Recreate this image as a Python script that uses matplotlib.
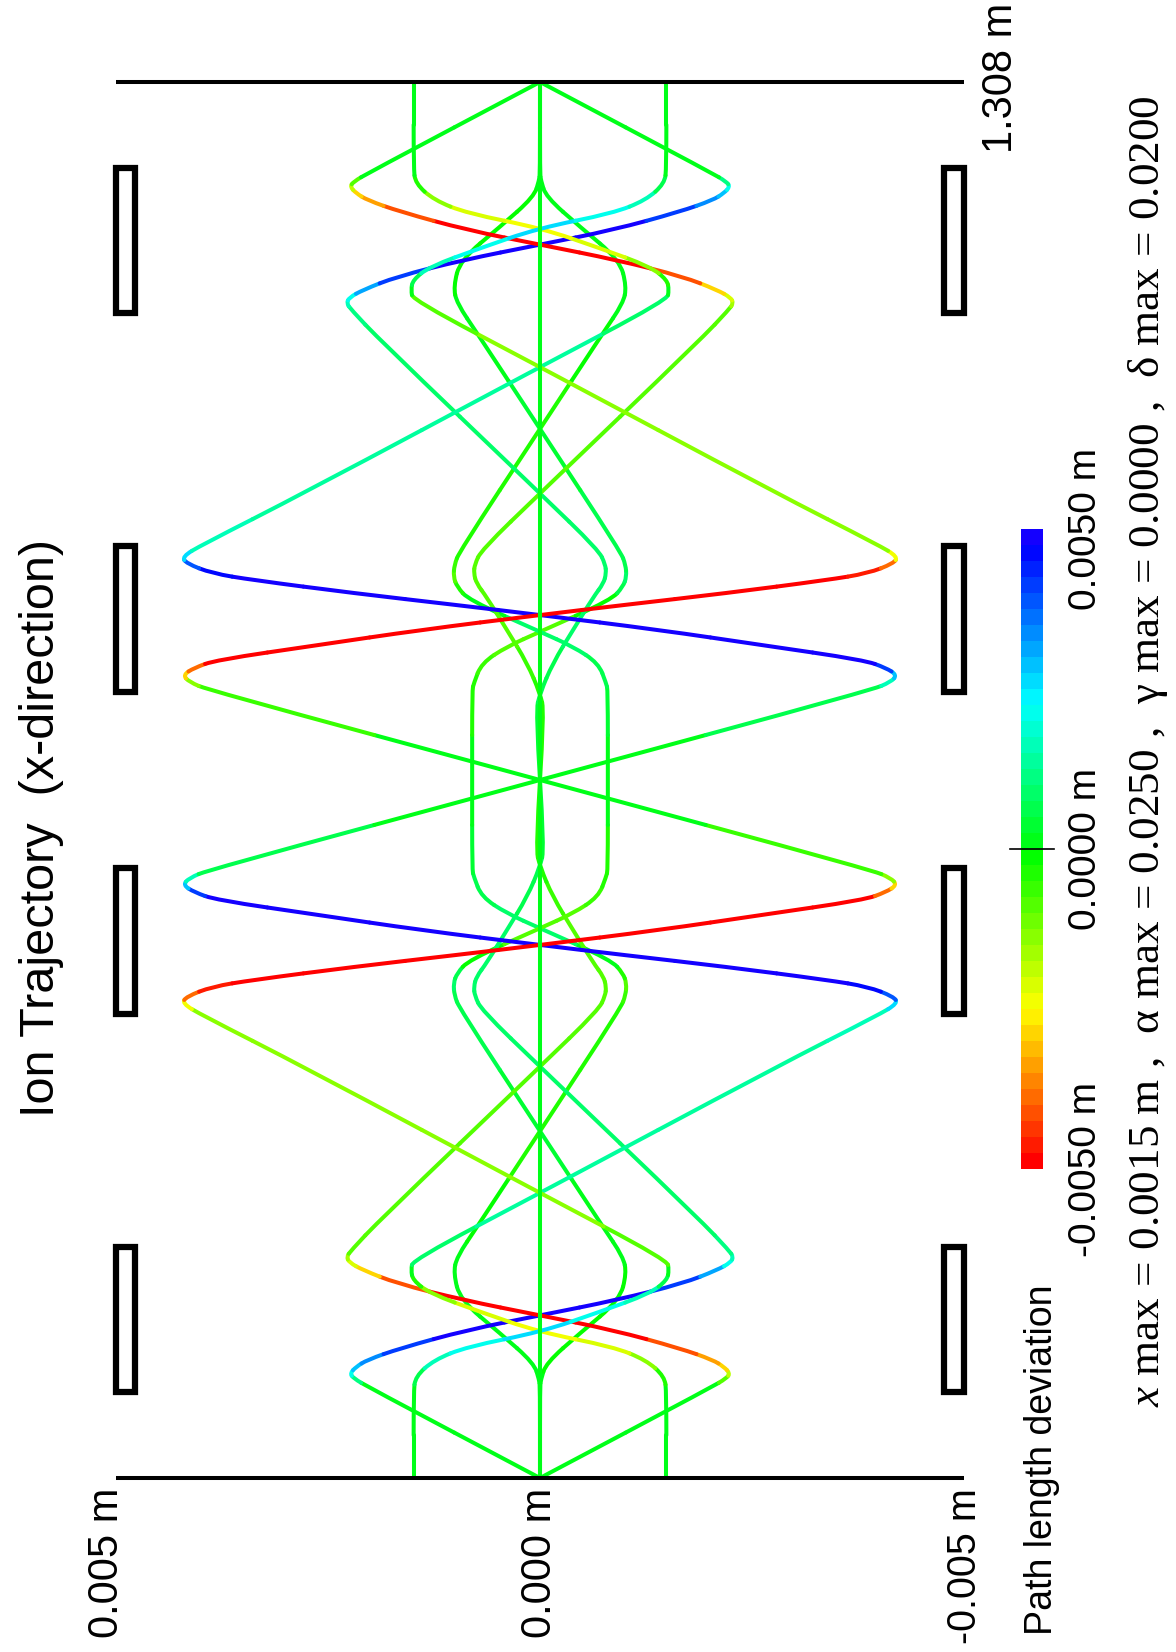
import colorsys
import numpy as np
import matplotlib
matplotlib.use("Agg")
import matplotlib.pyplot as plt
from matplotlib.colors import ListedColormap, Normalize
from matplotlib.colorbar import ColorbarBase
from matplotlib.path import Path
from matplotlib.patches import PathPatch, Rectangle
from matplotlib.lines import Line2D

plt.rcParams['font.family'] = ['Liberation Sans', 'DejaVu Sans']
plt.rcParams['mathtext.fontset'] = 'custom'
plt.rcParams['mathtext.it'] = 'Liberation Serif:italic'
plt.rcParams['mathtext.rm'] = 'Liberation Serif'

# ---- data: s = path length (m), x = offset (mm), c = path length deviation (mm)
# ray starting at x=+1.5 mm, parallel
s_p = [0.000, 0.080, 0.095, 0.1106, 0.123, 0.137, 0.1558, 0.173, 0.1855, 0.1949, 0.2043, 0.267,
       0.3854, 0.4338, 0.4448, 0.451, 0.4603, 0.4666, 0.479, 0.490, 0.4994, 0.5134, 0.5275, 0.5416,
       0.549, 0.5556, 0.562, 0.5697, 0.654,
       0.7383, 0.746, 0.7524, 0.759, 0.7664, 0.7805, 0.7946, 0.8086, 0.818, 0.829, 0.8414, 0.8477,
       0.857, 0.8632, 0.8742, 0.9226, 1.041, 1.1037, 1.1131, 1.1225, 1.135, 1.1522, 1.171, 1.185,
       1.1974, 1.213, 1.228, 1.308]
x_pp = [1.49, 1.49, 1.47, 1.25, 0.86, -0.02, -0.71, -1.30, -1.50, -1.52, -1.50, 0.0,
        2.79, 3.99, 4.22, 4.17, 3.87, 3.39, 2.19, 0.99, 0.0, -1.41, -2.61, -3.82,
        -4.08, -4.21, -4.14, -3.91, 0.0,
        3.91, 4.14, 4.21, 4.08, 3.82, 2.61, 1.41, 0.0, -0.99, -2.19, -3.39, -3.87,
        -4.17, -4.22, -3.99, -2.79, 0.0, 1.50, 1.52, 1.50, 1.30, 0.71, 0.02, -0.86,
        -1.25, -1.47, -1.49, -1.49]
c_pp = [0, 0, 0.5, 1.5, 2.2, 2.5, 2.2, 1.5, 0.5, 0, -0.8, -1.3,
        -1.3, -1.5, -2.5, -3.8, -4.6, -5, -5, -5, -5, -5, -5, -5,
        -4, -2.8, -1.5, -0.6, 0,
        -0.6, -1.5, -2.8, -4, -5, -5, -5, -5, -5, -5, -5, -4.6,
        -3.8, -2.5, -1.5, -1.3, -1.3, -0.8, 0, 0.5, 1.5, 2.2, 2.5, 2.2,
        1.5, 0.5, 0, 0]
# ray starting at x=-1.5 mm, parallel
x_pm = [-1.49, -1.49, -1.47, -1.25, -0.86, 0.02, 0.71, 1.30, 1.50, 1.52, 1.50, 0.0,
        -2.79, -3.99, -4.22, -4.17, -3.87, -3.39, -2.19, -0.99, 0.0, 1.41, 2.61, 3.82,
        4.08, 4.21, 4.14, 3.91, 0.0,
        -3.91, -4.14, -4.21, -4.08, -3.82, -2.61, -1.41, 0.0, 0.99, 2.19, 3.39, 3.87,
        4.17, 4.22, 3.99, 2.79, 0.0, -1.50, -1.52, -1.50, -1.30, -0.71, -0.02, 0.86,
        1.25, 1.47, 1.49, 1.49]
c_pm = [0, 0, -0.5, -1.5, -2.2, -2.5, -2.2, -1.5, -0.5, 0, 0.8, 1.3,
        1.3, 1.5, 2.5, 3.8, 4.6, 5, 5, 5, 5, 5, 5, 5,
        4, 2.8, 1.5, 0.6, 0,
        0.6, 1.5, 2.8, 4, 5, 5, 5, 5, 5, 5, 5, 4.6,
        3.8, 2.5, 1.5, 1.3, 1.3, 0.8, 0, -0.5, -1.5, -2.2, -2.5, -2.2,
        -1.5, -0.5, 0, 0]

# rays starting on axis with +/- angle
s_d = [0.000, 0.085, 0.0935, 0.0981, 0.104, 0.1106, 0.1215, 0.1387, 0.1527, 0.1668, 0.1824, 0.1949,
       0.202, 0.2073, 0.213, 0.2417, 0.3854, 0.4385, 0.452, 0.4603, 0.4697, 0.4825, 0.5134, 0.5446,
       0.5728, 0.590,
       0.718, 0.7352, 0.7634, 0.7946, 0.8255, 0.8383, 0.8477, 0.856, 0.8695, 0.9226, 1.0663, 1.095,
       1.1007, 1.106, 1.1131, 1.1256, 1.1412, 1.1553, 1.1693, 1.1865, 1.1974, 1.204, 1.2099, 1.2145,
       1.223, 1.308]
x_dp = [0.0, 2.02, 2.20, 2.24, 2.17, 2.04, 1.65, 0.86, -0.02, -0.91, -1.69, -2.09,
        -2.25, -2.28, -2.23, -1.89, 0.0, 0.69, 0.77, 0.78, 0.75, 0.63, 0.39, 0.15,
        0.0, -0.05,
        0.05, 0.0, -0.15, -0.39, -0.63, -0.75, -0.78, -0.77, -0.69, 0.0, 1.89, 2.23,
        2.28, 2.25, 2.09, 1.69, 0.91, 0.02, -0.86, -1.65, -2.04, -2.17, -2.24, -2.20,
        -2.02, 0.0]
c_dp = [0, 0, 1.0, 2.0, 2.8, 3.3, 4.2, 4.8, 5, 4.8, 4.2, 3.0,
        2.2, 1.6, 1.0, 0.9, 0.9, 0.9, 0.9, 0.9, 0.9, 0.9, 0.9, 0.6,
        0.5, 0.4,
        0.4, 0.5, 0.6, 0.9, 0.9, 0.9, 0.9, 0.9, 0.9, 0.9, 0.9, 1.0,
        1.6, 2.2, 3.0, 4.2, 4.8, 5, 4.8, 4.2, 3.3, 2.8, 2.0, 1.0,
        0, 0]
x_dm = [0.0, -2.02, -2.20, -2.24, -2.17, -2.04, -1.65, -0.86, 0.02, 0.91, 1.69, 2.09,
        2.25, 2.28, 2.23, 1.89, 0.0, -0.69, -0.77, -0.78, -0.75, -0.63, -0.39, -0.15,
        0.0, 0.05,
        -0.05, 0.0, 0.15, 0.39, 0.63, 0.75, 0.78, 0.77, 0.69, 0.0, -1.89, -2.23,
        -2.28, -2.25, -2.09, -1.69, -0.91, -0.02, 0.86, 1.65, 2.04, 2.17, 2.24, 2.20,
        2.02, 0.0]
c_dm = [0, 0, -1.0, -2.0, -2.8, -3.3, -4.2, -4.8, -5, -4.8, -4.2, -3.0,
        -2.2, -1.6, -1.0, -0.9, -0.9, -0.9, -0.9, -0.9, -0.9, -0.9, -0.9, -0.6,
        -0.5, -0.4,
        -0.4, -0.5, -0.6, -0.9, -0.9, -0.9, -0.9, -0.9, -0.9, -0.9, -0.9, -1.0,
        -1.6, -2.2, -3.0, -4.2, -4.8, -5, -4.8, -4.2, -3.3, -2.8, -2.0, -1.0,
        0, 0]

# on-axis rays that bulge inside the first and last lens
s_b = [0.000, 0.0856, 0.0918, 0.1075, 0.1356, 0.1668, 0.1918, 0.2073, 0.2355, 0.325, 0.440,
       0.4525, 0.4635, 0.4727, 0.4853, 0.5151, 0.529, 0.5446, 0.5634, 0.5697, 0.654,
       0.7383, 0.7446, 0.7634, 0.779, 0.7929, 0.8227, 0.8353, 0.8445, 0.8555, 0.868,
       0.983, 1.0725, 1.1007, 1.1162, 1.1412, 1.1724, 1.2005, 1.2162, 1.2224, 1.308]
x_bp = [0, 0, 0.01, 0.07, 0.47, 0.94, 1.02, 0.98, 0.74, 0.0, -0.95,
        -1.01, -1.02, -0.98, -0.84, 0.0, 0.39, 0.69, 0.78, 0.80, 0.80,
        0.80, 0.78, 0.69, 0.39, 0.0, -0.84, -0.98, -1.02, -1.01, -0.95,
        0.0, 0.74, 0.98, 1.02, 0.94, 0.47, 0.07, 0.01, 0, 0]
c_bp = [0, 0, 0, 0.1, 0.2, 0.2, 0.1, 0, -0.2, -0.3, -0.5,
        -0.7, -0.8, -0.5, 0.2, 0.8, 0.8, 0.7, 0.5, 0.3, 0,
        -0.3, -0.5, -0.7, -0.8, -0.8, -0.2, 0.5, 0.8, 0.7, 0.5,
        0.3, 0.2, 0, -0.1, -0.2, -0.2, -0.1, 0, 0, 0]
x_bm = [0, 0, -0.01, -0.07, -0.47, -0.94, -1.02, -0.98, -0.74, 0.0, 0.95,
        1.01, 1.02, 0.98, 0.84, 0.0, -0.39, -0.69, -0.78, -0.80, -0.80,
        -0.80, -0.78, -0.69, -0.39, 0.0, 0.84, 0.98, 1.02, 1.01, 0.95,
        0.0, -0.74, -0.98, -1.02, -0.94, -0.47, -0.07, -0.01, 0, 0]
c_bm = [0, 0, 0, -0.1, -0.2, -0.2, -0.1, 0, 0.2, 0.3, 0.5,
        0.7, 0.8, 0.5, -0.2, -0.8, -0.8, -0.7, -0.5, -0.3, 0,
        0.3, 0.5, 0.7, 0.8, 0.8, 0.2, -0.5, -0.8, -0.7, -0.5,
        -0.3, -0.2, 0, 0.1, 0.2, 0.2, 0.1, 0, 0, 0]

# central ray
s_c = [0.0, 1.308]
x_c = [0.0, 0.0]
c_c = [0.0, 0.0]

# lens electrodes (s ranges, m) and x ranges (mm)
lens_s = [(0.0806, 0.2169), (0.435, 0.5715), (0.7365, 0.873), (1.0911, 1.2274)]
lens_x = [(4.78, 5.0), (-5.0, -4.77)]

s_max = 1.308
x_tick_labels = ['0.005 m', '0.000 m', '-0.005 m']
cbar_ticks = [-5.0, 0.0, 5.0]
cbar_labels = ['-0.0050 m', '0.0000 m', '0.0050 m']
info = r'$x$ max = 0.0015 m ,  α max = 0.0250 ,  γ max = 0.0000 ,  δ max = 0.0200'

# ---- colours
n_bands = 40
cmap = ListedColormap([colorsys.hsv_to_rgb(0.68 * i / (n_bands - 1), 1, 1) for i in range(n_bands)])
norm = Normalize(-5, 5)

W, H = 1176, 1652
fig = plt.figure(figsize=(W / 100, H / 100), dpi=100)


def fx(px):
    return px / W


def fy(py):
    return 1 - py / H


ax = fig.add_axes([fx(116), fy(1478), (964 - 116) / W, (1478 - 82) / H])
ax.set_xlim(5, -5)
ax.set_ylim(0, s_max)
ax.axis('off')

LW = 2.9


def draw_ray(s, x, c):
    pts = np.column_stack([x, s])
    mids = (pts[:-1] + pts[1:]) / 2
    n = len(pts)
    for i in range(n):
        if i == 0:
            verts, codes = [pts[0], mids[0]], [Path.MOVETO, Path.LINETO]
        elif i == n - 1:
            verts, codes = [mids[-1], pts[-1]], [Path.MOVETO, Path.LINETO]
        else:
            verts, codes = [mids[i - 1], pts[i], mids[i]], [Path.MOVETO, Path.CURVE3, Path.CURVE3]
        ax.add_patch(PathPatch(Path(verts, codes), fill=False, edgecolor=cmap(norm(c[i])),
                               lw=LW, capstyle='round', joinstyle='round', zorder=2))


draw_ray(s_b, x_bp, c_bp)
draw_ray(s_b, x_bm, c_bm)
draw_ray(s_d, x_dp, c_dp)
draw_ray(s_d, x_dm, c_dm)
draw_ray(s_p, x_pm, c_pm)
draw_ray(s_p, x_pp, c_pp)
draw_ray(s_c, x_c, c_c)

# start / end planes
for s0 in [0, s_max]:
    ax.plot([5, -5], [s0, s0], color='k', lw=2.9, solid_capstyle='butt', clip_on=False, zorder=3)

# lens electrodes
for (a, b) in lens_s:
    for (x0, x1) in lens_x:
        ax.add_patch(Rectangle((x0, a), x1 - x0, b - a, facecolor='white', edgecolor='k',
                               lw=4.5, clip_on=False, zorder=3))

# texts
fig.text(fx(42), fy(828), 'Ion Trajectory  (x-direction)', rotation=90, ha='center', va='center',
         fontsize=35)
for px, py, fs, lab in zip([107, 540, 965], [1563, 1563, 1566], [30, 30, 28.5], x_tick_labels):
    fig.text(fx(px), fy(py), lab, rotation=90, ha='center', va='center', fontsize=fs)
fig.text(fx(1001), fy(78), '1.308 m', rotation=90, ha='center', va='center', fontsize=30)

# colour bar
cax = fig.add_axes([fx(1021), fy(1169), 22 / W, 640 / H])
cb = ColorbarBase(cax, cmap=cmap, norm=norm, orientation='vertical')
cb.outline.set_visible(False)
cax.set_xticks([])
cax.set_yticks([])
fig.add_artist(Line2D([fx(1010), fx(1054)], [fy(849), fy(849)], color='k', lw=1.2))
for val, lab in zip(cbar_ticks, cbar_labels):
    py = 1169 - (val + 5) / 10 * 640
    fig.text(fx(1086), fy(py), lab, rotation=90, ha='center', va='center', fontsize=28,
             family=['Liberation Sans Narrow', 'Liberation Sans'])
fig.text(fx(1042), fy(1460), 'Path length deviation', rotation=90, ha='center', va='center',
         fontsize=27)
fig.text(fx(1148), fy(751), info, rotation=90, ha='center', va='center', fontsize=32.5,
         family='Liberation Serif')

fig.savefig('out.png', dpi=100, facecolor='white')
